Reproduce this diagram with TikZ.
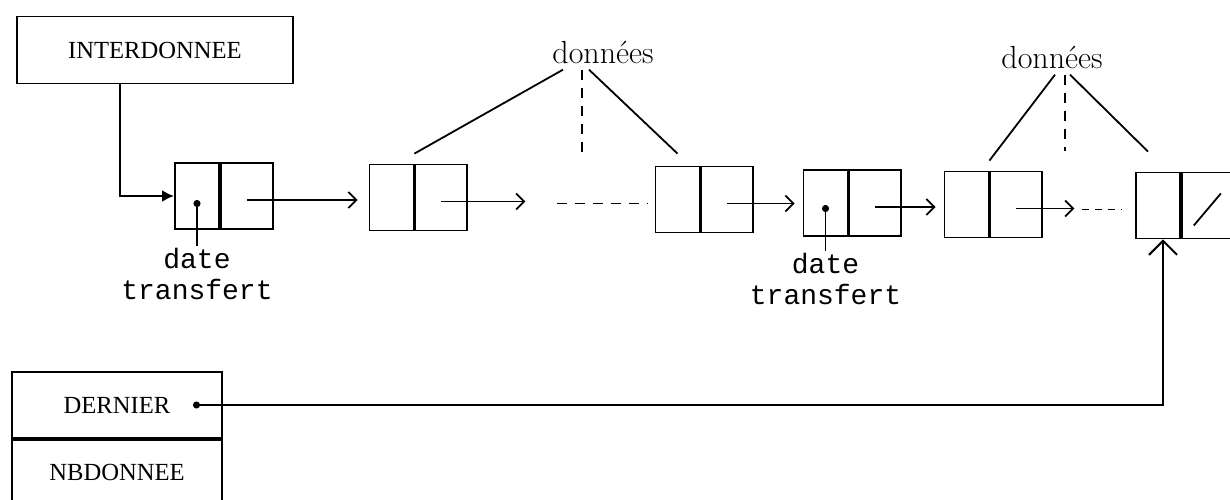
\documentclass[tikz,border=0pt]{standalone}
\usepackage{fontspec}
\newfontfamily\typefont{Liberation Mono}
\newfontfamily\capsfont{Liberation Serif}
\usetikzlibrary{positioning,arrows.meta}

\tikzset{
  box/.style={draw, line width=0.9pt, minimum height=33pt, inner sep=0pt},
  lcell/.style={box, minimum width=22pt},
  rcell/.style={box, minimum width=26pt, anchor=west},
  namebox/.style={box, minimum width=105pt, font=\capsfont\fontsize{12.3}{14}\selectfont},
  ptr/.style={line width=0.8pt, -{Straight Barb[length=4pt,width=8pt,line width=0.9pt]}},
  bigptr/.style={line width=1.3pt, -{Latex[length=6pt,width=6pt]}},
  dotptr/.style={line width=0.9pt, {Circle[length=3.5pt]}-},
  lastptr/.style={line width=0.8pt, {Circle[length=3.5pt]}-{Straight Barb[length=7pt,width=14pt,line width=1pt]}},
  dashline/.style={line width=0.9pt, dash pattern=on 5pt off 4pt},
  lbl/.style={font=\fontsize{16}{18}\selectfont, inner sep=3pt},
  dtlbl/.style={font=\typefont\fontsize{14}{15.5}\selectfont, align=center, inner sep=1pt}
}

\begin{document}
\begin{tikzpicture}[x=0.5pt,y=-0.5pt]
\useasboundingbox (0,0) rectangle (1230,499);

\node[namebox, minimum width=138pt, minimum height=33.5pt] (inter) at (155,50) {INTERDONNEE};

\node[lcell] (n1l) at (197,196) {};
\node[rcell] (n1r) at (n1l.east) {};
\node[lcell] (n2l) at (391.5,197.5) {};
\node[rcell] (n2r) at (n2l.east) {};
\node[lcell] (n3l) at (677.5,199.5) {};
\node[rcell] (n3r) at (n3l.east) {};
\node[lcell] (n4l) at (825.5,203) {};
\node[rcell] (n4r) at (n4l.east) {};
\node[lcell] (n5l) at (966.5,204.5) {};
\node[rcell] (n5r) at (n5l.east) {};
\node[lcell] (n6l) at (1158,205.5) {};
\node[rcell, minimum width=30pt] (n6r) at (n6l.east) {};
\draw[line width=0.9pt] ([xshift=-9pt,yshift=-10pt]n6r.center) -- ([xshift=4.5pt,yshift=6pt]n6r.center);

\draw[bigptr] ([xshift=-17.5pt]inter.south) |- (n1l.west);

\draw[ptr, shorten >=5.5pt] ([yshift=-2pt]n1r.center) -- ([yshift=-2pt]n1r.center -| n2l.west);
\draw[ptr] ([yshift=-2pt]n2r.center) -- ++(42pt,0);
\draw[dashline] ([xshift=-49pt,yshift=-2pt]n3l.west) -- ([xshift=-3.5pt,yshift=-2pt]n3l.west);
\draw[ptr, shorten >=4pt] ([yshift=-2pt]n3r.center) -- ([yshift=-2pt]n3r.center -| n4l.west);
\draw[ptr, shorten >=4pt] ([yshift=-2pt]n4r.center) -- ([yshift=-2pt]n4r.center -| n5l.west);
\draw[ptr] ([yshift=-2pt]n5r.center) -- ++(29pt,0);
\draw[line width=0.9pt, dash pattern=on 3.5pt off 3pt] ([xshift=-26.5pt,yshift=-2pt]n6l.west) -- ([xshift=-6.5pt,yshift=-2pt]n6l.west);

\node[dtlbl, below=8pt of n1l] (dt1) {date\\transfert};
\draw[dotptr] ([yshift=-2pt]n1l.center) -- (n1l.center |- dt1.north);
\node[dtlbl, below=7pt of n4l] (dt2) {date\\transfert};
\draw[dotptr] ([yshift=-1pt]n4l.center) -- (n4l.center |- dt2.north);

\node[lbl] (don1) at (603,52) {données};
\draw[line width=0.9pt] ([xshift=-20pt]don1.south) -- ([yshift=5pt]n2l.north east);
\draw[dashline] ([xshift=-10.5pt]don1.south) -- ++(0,-42pt);
\draw[line width=0.9pt] ([xshift=-7pt]don1.south) -- ([yshift=6pt]n3l.north);

\node[lbl] (don2) at (1052,57) {données};
\draw[line width=0.9pt] ([xshift=1.5pt]don2.south) -- ([yshift=5pt]n5l.north east);
\draw[dashline] ([xshift=6.5pt]don2.south) -- ++(0,-38pt);
\draw[line width=0.9pt] ([xshift=9pt]don2.south) -- ([xshift=-5pt,yshift=10pt]n6l.north);

\node[namebox] (dern) at (117,405) {DERNIER};
\node[namebox, anchor=north] (nbd) at (dern.south) {NBDONNEE};
\draw[lastptr] ([xshift=38pt]dern.center) -| ([xshift=2.5pt]n6l.south);
\end{tikzpicture}
\end{document}
